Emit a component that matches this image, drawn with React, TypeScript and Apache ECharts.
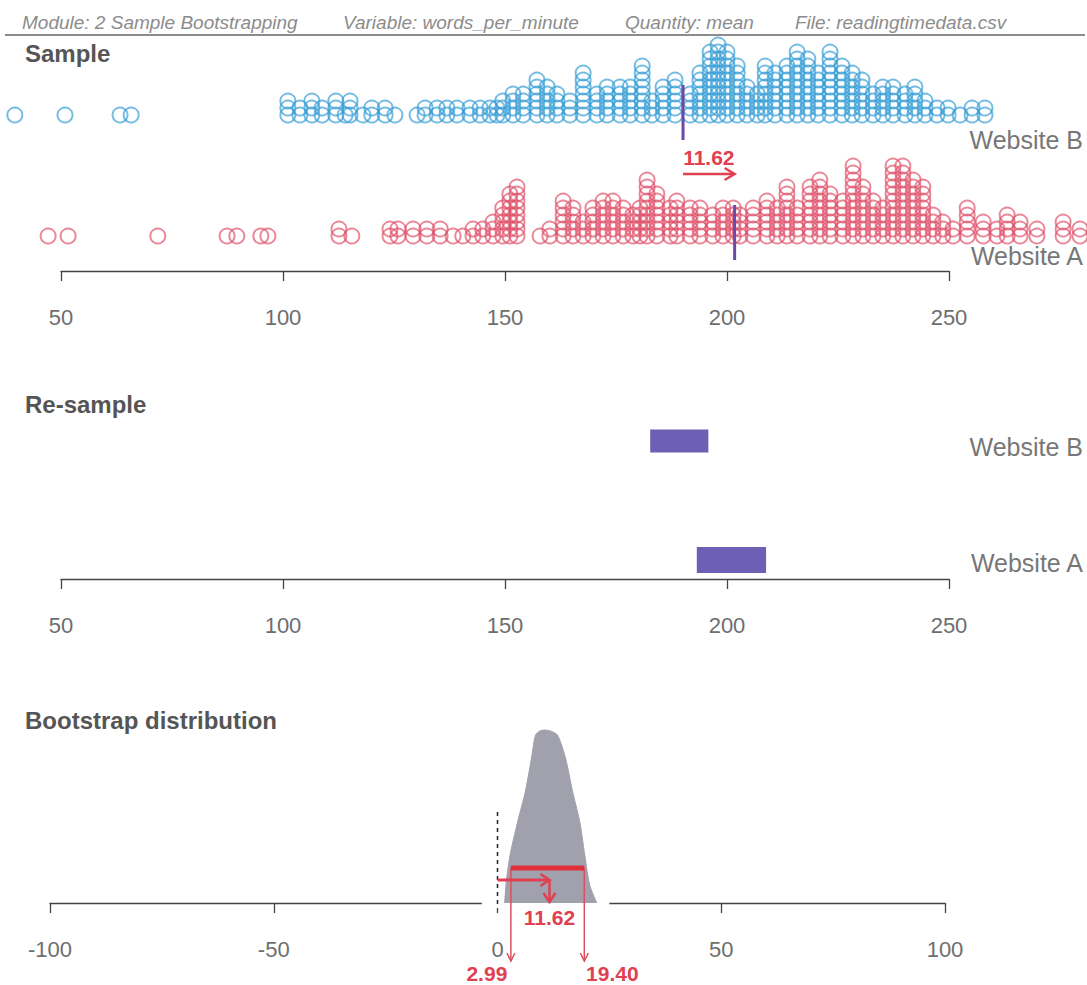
import React, { useEffect, useRef } from "react";
import * as echarts from "echarts";

// ---------- data ----------
const headerItems = [
  "Module: 2 Sample Bootstrapping",
  "Variable: words_per_minute",
  "Quantity: mean",
  "File: readingtimedata.csv",
];
const panelTitles = ["Sample", "Re-sample", "Bootstrap distribution"];
const groups = ["Website A", "Website B"];
const sampleTicks = [50, 100, 150, 200, 250];
const bootTicks = [-100, -50, 0, 50, 100];

// Website B sample dot plot: column positions (words per minute) and stack counts
const sampleBValues = [
  39.6, 50.9, 63.3, 65.8, 101.1, 103.8, 106.5, 108.8, 111.9, 114.0, 115.1, 118.0, 120.0, 123.0,
  125.2, 130.2, 132.0, 134.7, 136.9, 139.2, 142.1, 144.4, 146.6, 148.2, 149.5, 151.8, 154.1,
  157.2, 159.5, 161.7, 164.6, 167.6, 170.7, 173.0, 175.9, 178.2, 180.9, 183.1, 185.6, 188.3,
  191.7, 193.9, 196.2, 198.0, 200.0, 202.3, 204.5, 206.8, 208.6, 210.8, 213.5, 215.8, 218.2,
  220.5, 223.2, 225.9, 228.2, 230.4, 232.9, 235.1, 237.4, 240.1, 242.3, 244.6, 247.3, 249.8,
  252.5, 255.2, 258.1,
];
const sampleBCounts = [
  1, 1, 1, 1, 3, 2, 3, 2, 3, 1, 3, 1, 2, 2,
  1, 1, 2, 2, 2, 2, 2, 2, 2, 2, 3, 4, 4,
  6, 5, 4, 3, 7, 4, 5, 5, 5, 8, 3, 5, 6,
  4, 7, 10, 11, 10, 8, 5, 4, 8, 7, 8, 10, 9,
  7, 10, 8, 7, 6, 4, 5, 5, 4, 5, 3, 2, 2,
  1, 2, 2,
];

// Website A sample dot plot
const sampleAValues = [
  47.1, 51.6, 71.8, 87.4, 89.6, 95.0, 96.6, 112.6, 115.5, 124.1, 125.9, 129.3, 132.4, 135.4,
  138.3, 140.5, 142.8, 145.0, 147.3, 149.5, 151.1, 152.7, 157.9, 160.1, 163.1, 165.3, 167.6,
  169.8, 172.1, 174.3, 176.6, 178.8, 180.4, 182.0, 184.2, 187.2, 188.7, 191.7, 193.9, 196.8,
  199.1, 201.4, 202.9, 205.9, 209.0, 211.3, 213.5, 215.8, 218.7, 220.9, 223.2, 226.1, 228.4,
  230.6, 232.9, 235.1, 237.4, 239.6, 241.9, 244.1, 246.4, 248.6, 250.9, 254.1, 257.7, 260.8,
  263.1, 266.0, 269.8, 275.7, 279.5,
];
const sampleACounts = [
  1, 1, 1, 1, 1, 1, 1, 2, 1, 2, 2, 2, 2, 2,
  1, 1, 2, 2, 3, 5, 7, 8, 1, 2, 6, 5, 3,
  5, 6, 6, 5, 4, 5, 9, 7, 5, 6, 5, 5, 4,
  5, 5, 4, 5, 6, 5, 8, 5, 8, 9, 7, 6, 11,
  8, 6, 5, 11, 11, 9, 8, 4, 3, 2, 5, 3, 2,
  4, 3, 2, 3, 2,
];

const meanB = 190.1;
const meanA = 201.72;
const diffText = "11.62";

// Re-sample ranges of means shown (lo, hi)
const resampleB = [182.7, 195.8];
const resampleA = [193.2, 208.8];

// Bootstrap distribution outline (difference in means -> stack height)
const bootX = [1.6, 2.0, 2.9, 4.6, 6.2, 7.6, 8.5, 9.5, 10.5, 11.8, 13.4, 15.2, 16.8, 18.4, 19.5, 20.6, 22.2];
const bootH = [0, 23, 50, 83, 111, 145, 168, 172, 173, 172, 168, 145, 111, 81, 48, 18, 0];
const observedDiff = 11.62;
const ciLow = 2.99;
const ciHigh = 19.4;

// ---------- helpers ----------
const FONT = '"Liberation Sans", Arial, sans-serif';
const BLUE = "rgba(52,156,214,0.85)";
const RED = "rgba(222,80,104,0.85)";
const RED_SOLID = "#e0404f";
const PURPLE = "#6a4aa6";

function expand(values: number[], counts: number[]) {
  const pts: number[][] = [];
  values.forEach((v, i) => {
    for (let k = 0; k < counts[i]; k++) pts.push([v, k]);
  });
  return pts;
}

function axisCommon(gridIndex: number, min: number, max: number) {
  return {
    type: "value",
    gridIndex,
    min,
    max,
    interval: 50,
    axisLine: { show: true, onZero: false, lineStyle: { color: "#444", width: 1.3 } },
    axisTick: { show: true, length: 10, lineStyle: { color: "#444", width: 1.3 } },
    axisLabel: { show: true, color: "#6e6e6e", fontSize: 22, fontFamily: FONT, margin: 35 },
    splitLine: { show: false },
  };
}

export default function App() {
  const ref = useRef<HTMLDivElement>(null);
  useEffect(() => {
    const chart = echarts.init(ref.current!, null, { renderer: "svg" });
    const option: any = {
      animation: false,
      backgroundColor: "#ffffff",
      grid: [
        { left: 61, width: 888, top: 45, height: 70 },
        { left: 61, width: 888, top: 166, height: 105 },
        { left: 61, width: 888, top: 441, height: 138 },
        { left: 50, width: 895, top: 703, height: 200 },
      ],
      xAxis: [
        { type: "value", gridIndex: 0, min: 50, max: 250, show: false },
        axisCommon(1, 50, 250),
        axisCommon(2, 50, 250),
        axisCommon(3, -100, 100),
      ],
      yAxis: [
        { type: "value", gridIndex: 0, min: 0, max: 10, show: false },
        { type: "value", gridIndex: 1, min: -5, max: 10, show: false },
        { type: "value", gridIndex: 2, min: -0.16, max: 1, show: false },
        { type: "value", gridIndex: 3, min: 0, max: 200, show: false },
      ],
      series: [
        {
          type: "scatter",
          xAxisIndex: 0,
          yAxisIndex: 0,
          clip: false,
          symbol: "circle",
          symbolSize: 15,
          data: expand(sampleBValues, sampleBCounts),
          itemStyle: { color: "rgba(255,255,255,0)", borderColor: BLUE, borderWidth: 2 },
        },
        {
          type: "scatter",
          xAxisIndex: 1,
          yAxisIndex: 1,
          clip: false,
          symbol: "circle",
          symbolSize: 15,
          data: expand(sampleAValues, sampleACounts),
          itemStyle: { color: "rgba(255,255,255,0)", borderColor: RED, borderWidth: 2 },
        },
        {
          type: "custom",
          xAxisIndex: 2,
          yAxisIndex: 2,
          data: [
            [resampleB[0], resampleB[1], 1],
            [resampleA[0], resampleA[1], 0],
          ],
          renderItem: (params: any, api: any) => {
            const p0 = api.coord([api.value(0), api.value(2)]);
            const p1 = api.coord([api.value(1), api.value(2)]);
            const h = api.value(2) === 1 ? 23 : 26;
            return {
              type: "rect",
              shape: { x: p0[0], y: p0[1] - h / 2, width: p1[0] - p0[0], height: h },
              style: { fill: "#6c5fb4" },
            };
          },
        },
        {
          type: "line",
          xAxisIndex: 3,
          yAxisIndex: 3,
          z: 3,
          data: bootX.map((x, i) => [x, bootH[i]]),
          symbol: "none",
          smooth: 0.25,
          lineStyle: { color: "#a0a1ad", width: 1 },
          areaStyle: { color: "#a0a1ad", opacity: 1 },
        },
      ],
    };
    chart.setOption(option);

    const px = (grid: number, v: number) => (chart.convertToPixel({ gridIndex: grid }, [v, 0]) as number[])[0];
    const txt = (text: string, x: number, y: number, size: number, fill: string, opts: any = {}) => ({
      type: "text",
      z: 20,
      style: {
        text,
        x,
        y,
        fill,
        fontSize: size,
        fontFamily: FONT,
        fontWeight: opts.bold ? "bold" : "normal",
        fontStyle: opts.italic ? "italic" : "normal",
        textAlign: opts.align || "left",
        textVerticalAlign: "middle",
      },
    });
    const line = (x1: number, y1: number, x2: number, y2: number, stroke: string, w: number, dash?: number[]) => ({
      type: "line",
      z: 20,
      shape: { x1, y1, x2, y2 },
      style: { stroke, lineWidth: w, lineDash: dash },
    });
    const head = (pts: number[][], stroke: string, w: number) => ({
      type: "polyline",
      z: 20,
      shape: { points: pts },
      style: { stroke, lineWidth: w, fill: null },
    });

    const xB = px(0, meanB);
    const xA = px(1, meanA);
    const x0 = px(3, 0);
    const xObs = px(3, observedDiff);
    const xLo = px(3, ciLow);
    const xHi = px(3, ciHigh);
    const headerX = [22, 343, 625, 795];

    const graphics: any[] = [
      // header
      ...headerItems.map((t, i) => txt(t, headerX[i], 22, 19, "#8c8c8c", { italic: true })),
      line(5, 35, 1085, 35, "#666", 1.5),
      // titles
      txt(panelTitles[0], 25, 53, 24, "#555", { bold: true }),
      txt(panelTitles[1], 25, 404, 24, "#555", { bold: true }),
      txt(panelTitles[2], 25, 720, 24, "#555", { bold: true }),
      // group labels
      txt(groups[1], 1083, 140, 25, "#777", { align: "right" }),
      txt(groups[0], 1083, 256, 25, "#777", { align: "right" }),
      txt(groups[1], 1083, 447, 25, "#777", { align: "right" }),
      txt(groups[0], 1083, 563, 25, "#777", { align: "right" }),
      // sample means
      line(xB, 85, xB, 140, PURPLE, 3),
      line(xA, 205, xA, 260, PURPLE, 3),
      line(xB, 174, xA - 1, 174, RED_SOLID, 2.5),
      head([[xA - 10, 168], [xA, 174], [xA - 10, 180]], RED_SOLID, 2.5),
      txt(diffText, (xA + xB) / 2, 157, 21, RED_SOLID, { bold: true, align: "center" }),
      // bootstrap panel
      { type: "rect", z: 1, shape: { x: px(3, -3.5), y: 898, width: px(3, 25) - px(3, -3.5), height: 10 }, style: { fill: "#fff" } },
      line(x0, 812, x0, 905, "#222", 1.5, [4, 4]),
      line(xLo, 868, xLo, 961, "#d9505e", 1.5),
      line(xHi, 868, xHi, 961, "#d9505e", 1.5),
      head([[xLo - 4, 953], [xLo, 961], [xLo + 4, 953]], "#d9505e", 1.5),
      head([[xHi - 4, 953], [xHi, 961], [xHi + 4, 953]], "#d9505e", 1.5),
      line(xLo, 868, xHi, 868, "#e0303a", 5),
      line(x0, 880, xObs - 1, 880, RED_SOLID, 3),
      head([[xObs - 9, 874], [xObs, 880], [xObs - 9, 886]], RED_SOLID, 2.5),
      line(xObs, 880, xObs, 901, RED_SOLID, 2.5),
      head([[xObs - 6, 893], [xObs, 902], [xObs + 6, 893]], RED_SOLID, 2.5),
      txt(diffText, xObs, 917, 21, RED_SOLID, { bold: true, align: "center" }),
      txt(ciLow.toFixed(2), xLo - 24, 973, 21, RED_SOLID, { bold: true, align: "center" }),
      txt(ciHigh.toFixed(2), xHi + 28, 973, 21, RED_SOLID, { bold: true, align: "center" }),
    ];
    chart.setOption({ graphic: graphics });
    return () => chart.dispose();
  }, []);
  return (
    <div
      ref={ref}
      style={{ position: "fixed", left: 0, top: 0, width: 1087, height: 985, background: "#fff" }}
    />
  );
}
